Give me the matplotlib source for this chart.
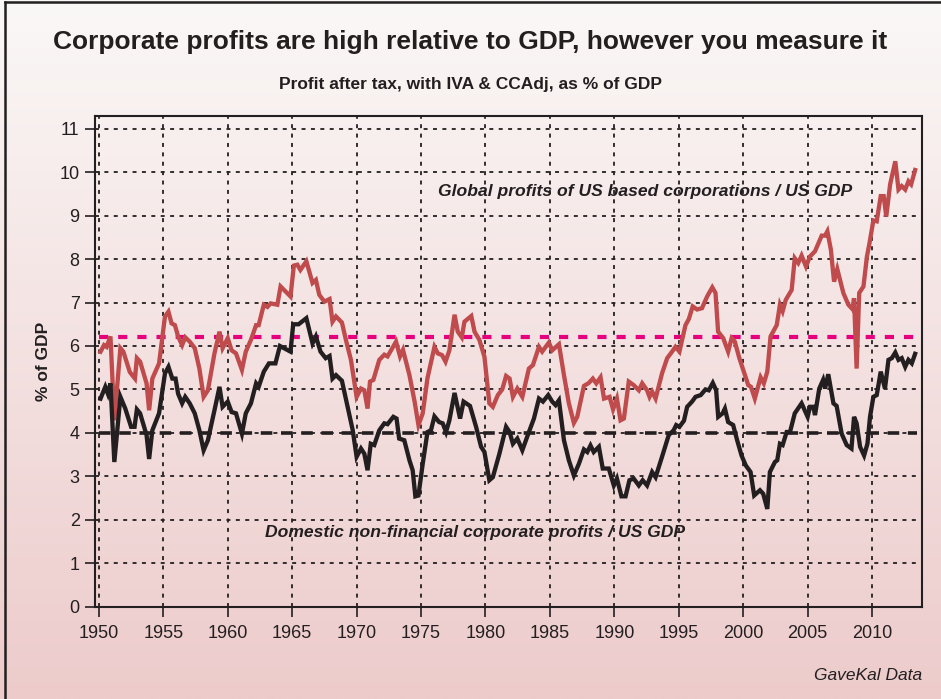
import numpy as np
import matplotlib.pyplot as plt
from matplotlib.lines import Line2D

# Global profits of US based corporations / US GDP (% of GDP)
years_global = [1950.13, 1950.4, 1950.6, 1950.9, 1951.2, 1951.67, 1951.9, 1952.4, 1952.8, 1952.95,
                1953.2, 1953.7, 1953.9, 1954.15, 1954.67, 1955.13, 1955.4, 1955.64, 1955.9, 1956.15,
                1956.46, 1956.7, 1957.05, 1957.44, 1957.8, 1958.13, 1958.46, 1958.97, 1959.36, 1959.6,
                1960.0, 1960.3, 1960.64, 1961.1, 1961.4, 1961.8, 1962.2, 1962.4, 1962.8, 1963.08,
                1963.33, 1963.85, 1964.1, 1964.87, 1965.13, 1965.4, 1965.64, 1966.1, 1966.58, 1966.84,
                1967.1, 1967.5, 1967.9, 1968.13, 1968.4, 1968.86, 1969.17, 1969.56, 1970.0, 1970.34,
                1970.6, 1970.85, 1971.04, 1971.3, 1971.76, 1972.15, 1972.4, 1973.06, 1973.37, 1973.6,
                1974.1, 1974.5, 1974.8, 1975.13, 1975.5, 1976.04, 1976.3, 1976.63, 1976.9, 1977.2,
                1977.6, 1977.85, 1978.16, 1978.37, 1978.9, 1979.15, 1979.53, 1979.92, 1980.3, 1980.57,
                1980.96, 1981.3, 1981.6, 1981.87, 1982.13, 1982.47, 1982.86, 1983.37, 1983.68, 1984.15,
                1984.4, 1984.92, 1985.18, 1985.7, 1986.09, 1986.47, 1986.86, 1987.12, 1987.64, 1988.02,
                1988.33, 1988.6, 1988.93, 1989.2, 1989.63, 1989.9, 1990.2, 1990.48, 1990.74, 1991.12,
                1991.5, 1991.9, 1992.16, 1992.54, 1992.73, 1992.93, 1993.2, 1993.7, 1994.1, 1994.48,
                1994.74, 1995.05, 1995.52, 1995.78, 1996.08, 1996.42, 1996.8, 1997.2, 1997.6, 1997.85,
                1998.05, 1998.45, 1998.83, 1999.1, 1999.35, 1999.7, 2000.0, 2000.39, 2000.6, 2000.9,
                2001.35, 2001.6, 2001.87, 2002.12, 2002.6, 2002.85, 2003.06, 2003.3, 2003.76, 2004.0,
                2004.27, 2004.53, 2004.87, 2005.18, 2005.57, 2006.09, 2006.35, 2006.53, 2006.8, 2007.05,
                2007.3, 2007.77, 2008.16, 2008.47, 2008.6, 2008.8, 2009.0, 2009.33, 2009.6, 2009.8,
                2010.1, 2010.36, 2010.67, 2010.9, 2011.1, 2011.4, 2011.8, 2012.05, 2012.3, 2012.57,
                2012.82, 2013.03, 2013.34]
global_pct = [5.87, 6.02, 5.98, 6.22, 4.29, 5.95, 5.87, 5.40, 5.25, 5.72,
              5.64, 5.14, 4.52, 5.25, 5.60, 6.68, 6.79, 6.52, 6.48, 6.22,
              6.02, 6.20, 6.10, 5.95, 5.48, 4.83, 4.98, 5.83, 6.33, 5.95,
              6.18, 5.90, 5.83, 5.45, 5.87, 6.14, 6.48, 6.48, 6.95, 6.90,
              6.98, 6.95, 7.37, 7.14, 7.85, 7.87, 7.75, 7.95, 7.45, 7.52,
              7.18, 7.02, 7.08, 6.56, 6.68, 6.54, 6.14, 5.68, 4.83, 5.02,
              4.98, 4.56, 5.18, 5.22, 5.68, 5.80, 5.76, 6.10, 5.76, 5.91,
              5.33, 4.72, 4.18, 4.45, 5.26, 5.98, 5.83, 5.79, 5.64, 5.90,
              6.72, 6.33, 6.20, 6.56, 6.69, 6.33, 6.14, 5.75, 4.68, 4.60,
              4.87, 5.00, 5.31, 5.25, 4.83, 5.02, 4.83, 5.48, 5.56, 5.98,
              5.87, 6.08, 5.90, 6.04, 5.33, 4.68, 4.23, 4.37, 5.08, 5.15,
              5.25, 5.14, 5.28, 4.79, 4.83, 4.54, 4.79, 4.29, 4.33, 5.18,
              5.10, 4.98, 5.14, 4.98, 4.83, 4.95, 4.79, 5.37, 5.72, 5.87,
              5.98, 5.87, 6.48, 6.62, 6.91, 6.84, 6.87, 7.14, 7.35, 7.22,
              6.33, 6.18, 5.87, 6.18, 6.10, 5.72, 5.45, 5.10, 5.06, 4.79,
              5.28, 5.14, 5.41, 6.22, 6.48, 6.95, 6.80, 7.06, 7.29, 8.02,
              7.91, 8.08, 7.83, 8.06, 8.18, 8.54, 8.54, 8.64, 8.22, 7.48,
              7.77, 7.22, 6.95, 6.85, 7.10, 5.48, 7.22, 7.37, 8.06, 8.37,
              8.89, 8.87, 9.45, 9.45, 8.98, 9.72, 10.25, 9.60, 9.68, 9.60,
              9.79, 9.72, 10.05]

# Domestic non-financial corporate profits / US GDP (% of GDP)
years_dom = [1950.13, 1950.5, 1950.7, 1950.9, 1951.2, 1951.67, 1952.05, 1952.5, 1952.77, 1952.95,
             1953.2, 1953.7, 1953.9, 1954.15, 1954.67, 1955.13, 1955.4, 1955.7, 1955.95, 1956.15,
             1956.46, 1956.7, 1957.05, 1957.44, 1957.8, 1958.13, 1958.46, 1958.97, 1959.36, 1959.6,
             1960.0, 1960.3, 1960.64, 1961.1, 1961.4, 1961.8, 1962.2, 1962.4, 1962.8, 1963.2,
             1963.7, 1964.05, 1964.87, 1965.08, 1965.5, 1966.1, 1966.58, 1966.84, 1967.2, 1967.6,
             1967.9, 1968.13, 1968.4, 1968.86, 1969.3, 1969.7, 1970.0, 1970.34, 1970.6, 1970.85,
             1971.1, 1971.37, 1971.76, 1972.15, 1972.4, 1972.85, 1973.1, 1973.3, 1973.7, 1974.1,
             1974.35, 1974.56, 1974.8, 1975.13, 1975.5, 1975.77, 1976.04, 1976.4, 1976.68, 1976.94,
             1977.2, 1977.6, 1978.03, 1978.3, 1978.8, 1979.27, 1979.66, 1979.92, 1980.3, 1980.57,
             1981.08, 1981.6, 1981.87, 1982.13, 1982.47, 1982.86, 1983.37, 1983.76, 1984.15, 1984.46,
             1984.87, 1985.18, 1985.44, 1985.7, 1986.09, 1986.47, 1986.86, 1987.25, 1987.64, 1987.9,
             1988.15, 1988.4, 1988.8, 1989.1, 1989.57, 1989.96, 1990.2, 1990.55, 1990.87, 1991.17,
             1991.5, 1991.9, 1992.2, 1992.54, 1992.93, 1993.2, 1993.7, 1994.22, 1994.6, 1994.8,
             1995.05, 1995.4, 1995.65, 1996.03, 1996.3, 1996.7, 1997.07, 1997.33, 1997.64, 1997.9,
             1998.06, 1998.4, 1998.58, 1998.83, 1999.22, 1999.53, 1999.87, 2000.2, 2000.57, 2000.85,
             2001.3, 2001.55, 2001.87, 2002.07, 2002.46, 2002.64, 2002.85, 2003.06, 2003.37, 2003.63,
             2004.0, 2004.53, 2005.0, 2005.18, 2005.44, 2005.57, 2005.9, 2006.2, 2006.35, 2006.6,
             2007.0, 2007.25, 2007.64, 2008.03, 2008.4, 2008.6, 2008.8, 2009.07, 2009.38, 2009.64,
             2009.84, 2010.1, 2010.36, 2010.67, 2011.0, 2011.27, 2011.53, 2011.8, 2012.05, 2012.3,
             2012.57, 2012.82, 2013.08, 2013.34]
dom_pct = [4.79, 5.06, 4.90, 5.14, 3.33, 4.83, 4.56, 4.14, 4.14, 4.54,
           4.45, 3.95, 3.40, 4.06, 4.45, 5.37, 5.52, 5.25, 5.25, 4.90,
           4.68, 4.83, 4.68, 4.45, 4.06, 3.60, 3.83, 4.52, 5.06, 4.60,
           4.72, 4.48, 4.45, 3.98, 4.45, 4.68, 5.14, 5.06, 5.41, 5.60,
           5.60, 6.00, 5.87, 6.50, 6.50, 6.64, 6.06, 6.22, 5.87, 5.72,
           5.77, 5.25, 5.33, 5.20, 4.60, 4.06, 3.45, 3.64, 3.52, 3.14,
           3.75, 3.72, 4.06, 4.22, 4.20, 4.37, 4.33, 3.87, 3.83, 3.37,
           3.14, 2.54, 2.56, 3.29, 4.02, 4.06, 4.38, 4.25, 4.22, 4.02,
           4.29, 4.92, 4.33, 4.72, 4.62, 4.14, 3.68, 3.56, 2.91, 2.98,
           3.52, 4.14, 4.02, 3.75, 3.87, 3.60, 4.02, 4.33, 4.79, 4.72,
           4.87, 4.72, 4.64, 4.75, 3.83, 3.37, 3.02, 3.29, 3.62, 3.56,
           3.71, 3.56, 3.68, 3.18, 3.18, 2.79, 2.95, 2.54, 2.54, 2.91,
           2.95, 2.79, 2.91, 2.79, 3.10, 2.98, 3.45, 3.95, 4.06, 4.18,
           4.14, 4.28, 4.60, 4.72, 4.83, 4.87, 5.00, 4.98, 5.15, 4.98,
           4.37, 4.45, 4.56, 4.25, 4.18, 3.83, 3.48, 3.25, 3.10, 2.56,
           2.68, 2.60, 2.25, 3.10, 3.33, 3.37, 3.75, 3.72, 4.02, 4.02,
           4.45, 4.68, 4.37, 4.60, 4.60, 4.41, 5.02, 5.22, 5.02, 5.35,
           4.68, 4.62, 3.98, 3.72, 3.64, 4.37, 4.22, 3.68, 3.48, 3.75,
           4.37, 4.83, 4.87, 5.41, 5.02, 5.68, 5.72, 5.85, 5.68, 5.72,
           5.52, 5.68, 5.60, 5.82]

global_avg = 6.2
dom_avg = 4.0
year_ticks = list(range(1950, 2011, 5))
pct_ticks = list(range(0, 12))

plt.rcParams['font.family'] = ['Liberation Sans', 'DejaVu Sans']
ink = '#231f20'

fig = plt.figure(figsize=(9.41, 6.99), dpi=100)

# pale-to-pink background gradient behind everything
bg = fig.add_axes([0, 0, 1, 1], zorder=-10)
top_c = np.array([250, 248, 247]) / 255
bot_c = np.array([237, 203, 203]) / 255
t = np.linspace(0, 1, 256)[:, None]
grad = top_c[None, :] * (1 - t) + bot_c[None, :] * t
bg.imshow(grad[:, None, :], aspect='auto', extent=[0, 1, 0, 1])
bg.set_axis_off()

fig.add_artist(Line2D([5 / 941, 5 / 941], [0, 1 - 2 / 699], color=ink, lw=1.8))
fig.add_artist(Line2D([5 / 941, 1], [1 - 2 / 699, 1 - 2 / 699], color=ink, lw=1.8))

ax = fig.add_axes([95 / 941, 1 - 606.7 / 699, (921.7 - 95) / 941, (606.7 - 115.7) / 699])
ax.set_facecolor('none')

ax.grid(True, color=ink, linestyle=(0, (2.2, 3.0)), linewidth=1.3)
ax.set_axisbelow(True)

ax.hlines(global_avg, 1950, 2013.3, color='#e6007e', lw=3, linestyles=(0, (2.2, 2.4)), zorder=2)
ax.hlines(dom_avg, 1950, 2013.5, color=ink, lw=2.6, linestyles=(0, (3.2, 2.4)), zorder=2)

ax.plot(years_global, global_pct, color='#c04b4d', lw=3.1, solid_joinstyle='miter', zorder=3)
ax.plot(years_dom, dom_pct, color=ink, lw=3.1, solid_joinstyle='miter', zorder=4)

ax.set_xlim(1949.7, 2013.85)
ax.set_ylim(0, 11.3)
ax.set_xticks(year_ticks)
ax.set_yticks(pct_ticks)
ax.tick_params(axis='both', direction='out', length=7, width=1.2, color=ink,
               labelsize=13, labelcolor=ink, pad=4)
ax.tick_params(axis='x', pad=6)
for s in ax.spines.values():
    s.set_color(ink)
    s.set_linewidth(1.5)

ax.set_ylabel('% of GDP', fontsize=12.5, fontweight='bold', color=ink, labelpad=6)

ax.text(1976.3, 9.55, 'Global profits of US based corporations / US GDP', fontsize=12.6,
        style='italic', fontweight='bold', color=ink, ha='left', va='center')
ax.text(1962.9, 1.70, 'Domestic non-financial corporate profits / US GDP', fontsize=12.6,
        style='italic', fontweight='bold', color=ink, ha='left', va='center')

fig.text(0.5, 1 - 42 / 699, 'Corporate profits are high relative to GDP, however you measure it',
         ha='center', va='center', fontsize=19, fontweight='bold', color=ink)
fig.text(0.5, 1 - 84 / 699, 'Profit after tax, with IVA & CCAdj, as % of GDP',
         ha='center', va='center', fontsize=12.5, fontweight='bold', color=ink)
fig.text(922 / 941, 1 - 676 / 699, 'GaveKal Data', ha='right', va='center',
         fontsize=12.5, style='italic', color=ink)

fig.savefig('out.png', dpi=100)
